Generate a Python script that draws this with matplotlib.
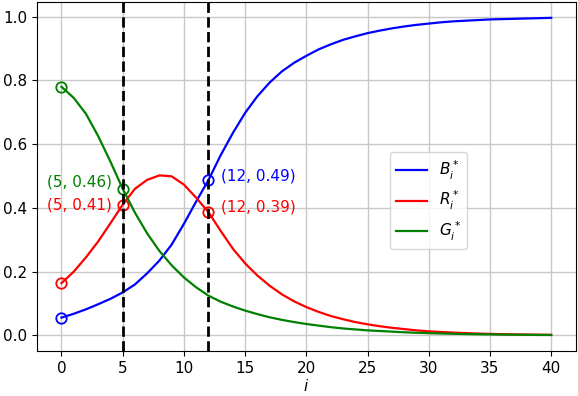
import numpy as np
import matplotlib
matplotlib.use("Agg")
import matplotlib.pyplot as plt

matplotlib.rcParams['font.family'] = 'DejaVu Sans'
matplotlib.rcParams['font.size'] = 11

# values, i = 0..40
steps = list(range(41))
blue_vals = [0.056, 0.068, 0.082, 0.098, 0.115, 0.135, 0.160, 0.195, 0.235, 0.285,
             0.350, 0.420, 0.487, 0.565, 0.635, 0.698, 0.750, 0.793, 0.828, 0.855,
             0.877, 0.897, 0.913, 0.927, 0.938, 0.948, 0.956, 0.963, 0.969, 0.974,
             0.978, 0.982, 0.985, 0.987, 0.989, 0.991, 0.992, 0.993, 0.994, 0.995,
             0.996]
red_vals = [0.164, 0.200, 0.245, 0.295, 0.352, 0.410, 0.460, 0.488, 0.502, 0.499,
            0.473, 0.432, 0.387, 0.328, 0.272, 0.226, 0.188, 0.156, 0.129, 0.107,
            0.089, 0.074, 0.061, 0.051, 0.042, 0.035, 0.029, 0.024, 0.020, 0.016,
            0.013, 0.011, 0.009, 0.0075, 0.006, 0.005, 0.004, 0.0035, 0.003, 0.0025,
            0.002]
green_vals = [0.780, 0.745, 0.695, 0.625, 0.545, 0.460, 0.385, 0.320, 0.265, 0.220,
              0.182, 0.151, 0.125, 0.106, 0.091, 0.078, 0.067, 0.057, 0.049, 0.042,
              0.036, 0.031, 0.026, 0.022, 0.019, 0.016, 0.014, 0.012, 0.010, 0.0085,
              0.0072, 0.0062, 0.0053, 0.0045, 0.0038, 0.0033, 0.0028, 0.0024, 0.002, 0.0017,
              0.0015]
labels = [r'$B_i^*$', r'$R_i^*$', r'$G_i^*$']
# steps where each curve gets a hollow circle
blue_marks = [0, 12]
red_marks = [0, 5, 12]
green_marks = [0, 5]

fig = plt.figure(figsize=(5.78, 3.96), dpi=100)
ax = fig.add_axes([0.064, 0.114, 0.932, 0.881])

series = [(blue_vals, 'blue', blue_marks), (red_vals, 'red', red_marks),
          (green_vals, 'green', green_marks)]
for (vals, col, marks), lab in zip(series, labels):
    ax.plot(steps, vals, color=col, lw=1.6, label=lab)
    ax.plot(marks, [vals[i] for i in marks], 'o', ms=7.5,
            mfc='none', mec=col, mew=1.3)

for s in [5, 12]:
    ax.axvline(s, color='black', ls='--', lw=2)

# (step, values, colour, offset in points, alignment)
notes = [
    (5, green_vals, 'green', (-8, 5), 'right'),
    (5, red_vals, 'red', (-8, 0), 'right'),
    (12, blue_vals, 'blue', (9, 3), 'left'),
    (12, red_vals, 'red', (9, 3.5), 'left'),
]
for s, vals, col, off, ha in notes:
    ax.annotate(f"({s}, {vals[s]:.2f})", (s, vals[s]), xytext=off,
                textcoords='offset points', color=col, ha=ha, va='center')

ax.set_xticks(range(0, 41, 5))
ax.set_yticks(np.arange(0, 1.01, 0.2))
ax.grid(True, color='#c8c8c8', lw=1)
ax.set_axisbelow(True)
ax.set_xlabel(r'$i$', labelpad=2)
ax.legend(loc='center', bbox_to_anchor=(0.727, 0.43))

fig.savefig('out.png')
